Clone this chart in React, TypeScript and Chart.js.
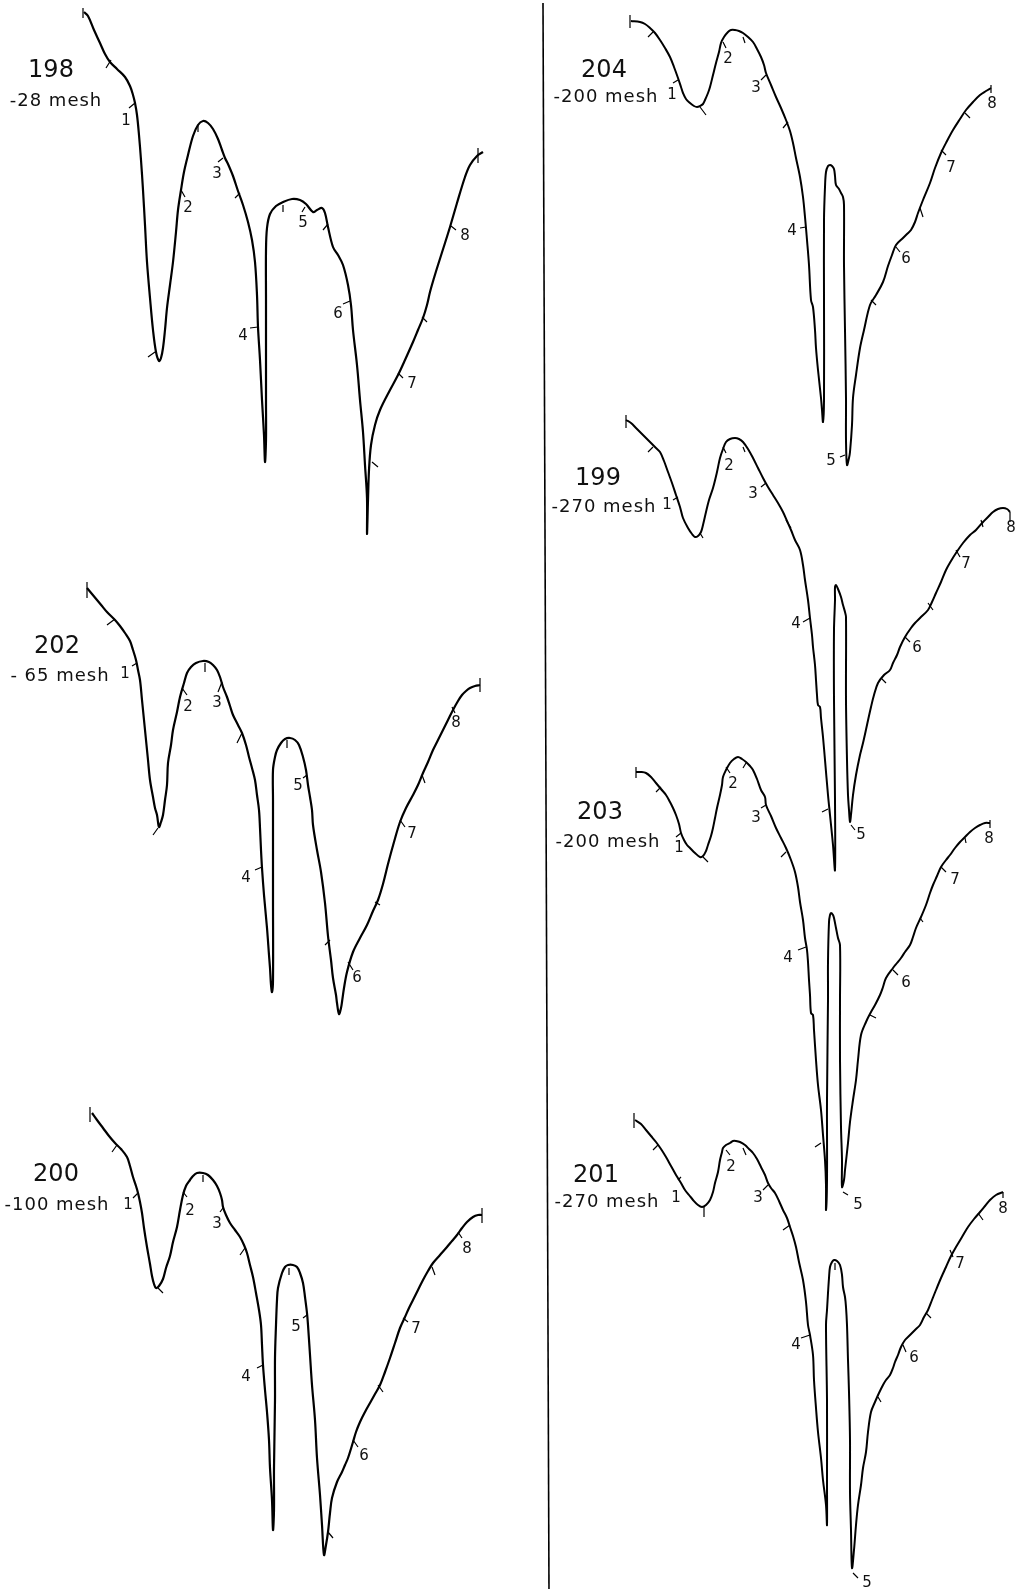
import React, { useEffect, useRef } from "react";
import { Chart, registerables } from "chart.js";

Chart.register(...registerables);

// Page size of the reference sheet (values are read in the sheet's own units)
const SHEET_W = 1026;
const SHEET_H = 1589;

// Sample identifiers and mesh sizes
const sampleIds = ["198", "202", "200", "204", "199", "203", "201"];
const meshLabels = ["-28 mesh", "- 65 mesh", "-100 mesh", "-200 mesh", "-270 mesh", "-200 mesh", "-270 mesh"];
const bandNumbers = ["1", "2", "3", "4", "5", "6", "7", "8"];

// Traced curves [x, y] in sheet units
const curve198: number[][] = [
  [84,12],[88,16],[94,30],[100,43],[105,54],[110,62],[117,69],[125,77],[130,86],[133,95],[135,103],[137,115],[139,135],[141,160],[143,190],[145,225],[147,262],[150,298],[153,330],[156,352],[159,361],[161,358],[163,348],[165,330],[167,308],[170,285],[173,262],[176,232],[178,210],[181,190],[184,172],[188,155],[193,136],[198,125],[203,121],[208,123],[213,129],[218,139],[222,150],[225,158],[228,164],[233,176],[238,191],[243,205],[248,222],[252,240],[255,262],[257,295],[258,327],[260,360],[262,400],[264,435],[265,462],[266,440],[266,400],[266,300],[266,250],[267,228],[270,214],[276,206],[283,202],[292,199],[300,200],[306,204],[313,212],[317,210],[322,208],[325,213],[328,227],[333,247],[338,255],[343,265],[348,285],[351,305],[353,330],[357,365],[360,400],[363,432],[365,465],[367,498],[367,534],[368,500],[369,470],[371,445],[375,425],[380,410],[390,390],[398,375],[405,360],[413,342],[418,330],[423,318],[427,305],[430,292],[434,278],[438,265],[445,243],[450,227],[457,203],[465,177],[470,165],[477,156],[483,152]
];
const curve202: number[][] = [
  [87,588],[92,594],[97,600],[102,606],[107,612],[115,620],[120,626],[125,633],[130,641],[133,650],[136,660],[138,670],[140,680],[142,700],[145,730],[148,760],[150,780],[153,797],[155,808],[157,815],[159,827],[161,822],[163,815],[165,800],[167,785],[168,763],[171,745],[173,730],[177,712],[180,697],[184,683],[187,673],[191,667],[196,663],[203,661],[209,662],[213,665],[217,670],[220,677],[223,687],[227,697],[230,706],[233,715],[238,725],[242,733],[246,745],[249,757],[252,768],[255,780],[257,795],[259,810],[260,828],[261,850],[262,868],[264,895],[267,928],[269,955],[270,968],[271,985],[272,992],[273,980],[273,900],[273,800],[273,770],[275,757],[277,750],[281,743],[285,739],[290,738],[295,740],[299,745],[303,757],[306,770],[308,785],[310,797],[312,810],[313,825],[317,850],[321,872],[325,903],[328,936],[331,960],[333,978],[336,995],[337,1003],[339,1014],[341,1008],[342,1002],[344,988],[347,972],[353,952],[360,938],[367,925],[373,911],[378,900],[383,884],[388,864],[394,842],[400,822],[406,808],[413,795],[418,785],[423,773],[428,762],[433,750],[438,740],[443,730],[448,720],[453,710],[458,701],[462,695],[466,691],[470,688],[475,686],[480,685]
];
const curve200: number[][] = [
  [92,1113],[97,1120],[103,1128],[109,1136],[115,1143],[121,1149],[127,1157],[130,1166],[133,1177],[136,1186],[138,1193],[140,1202],[142,1213],[144,1228],[147,1247],[150,1264],[152,1276],[154,1284],[156,1288],[159,1286],[163,1279],[166,1268],[170,1256],[173,1242],[177,1227],[180,1210],[183,1195],[186,1186],[190,1180],[193,1176],[197,1173],[203,1173],[208,1175],[213,1180],[217,1186],[220,1193],[222,1200],[223,1207],[226,1215],[230,1223],[235,1230],[240,1237],[244,1245],[247,1253],[250,1265],[253,1277],[256,1293],[259,1310],[261,1325],[262,1345],[263,1365],[265,1390],[267,1412],[269,1440],[270,1468],[272,1500],[273,1530],[274,1510],[274,1468],[275,1400],[275,1358],[276,1325],[277,1300],[278,1288],[282,1273],[285,1267],[288,1265],[293,1265],[297,1267],[300,1273],[303,1283],[305,1297],[307,1313],[308,1325],[310,1355],[312,1385],[315,1420],[317,1458],[320,1495],[322,1525],[324,1555],[326,1545],[328,1532],[330,1513],[332,1498],[337,1482],[342,1472],[345,1465],[348,1458],[353,1442],[356,1432],[360,1422],[365,1412],[370,1403],[375,1394],[380,1385],[385,1372],[390,1358],[395,1343],[400,1328],[405,1317],[409,1308],[413,1300],[418,1290],[423,1280],[428,1271],[433,1263],[440,1255],[447,1247],[452,1241],[457,1235],[462,1228],[467,1222],[473,1217],[478,1215],[482,1215]
];
const curve204: number[][] = [
  [631,21],[640,22],[645,24],[650,28],[655,33],[660,40],[665,48],[670,57],[674,67],[678,78],[681,87],[683,93],[686,99],[690,103],[694,106],[697,107],[700,106],[703,104],[705,100],[708,93],[710,87],[713,75],[716,63],[719,52],[721,43],[724,37],[728,32],[731,30],[735,30],[739,31],[743,33],[748,37],[753,42],[757,49],[761,57],[764,65],[766,73],[771,85],[776,97],[781,108],[786,120],[790,131],[793,143],[796,158],[800,177],[803,197],[805,217],[807,240],[809,265],[811,300],[813,307],[815,330],[816,348],[818,370],[821,398],[822,410],[823,422],[824,400],[824,300],[824,220],[825,187],[826,172],[828,166],[830,165],[832,166],[834,169],[835,176],[836,185],[839,189],[841,193],[843,197],[844,205],[844,265],[845,330],[846,398],[846,440],[847,465],[849,458],[850,452],[852,425],[853,398],[856,375],[860,348],[864,330],[870,305],[876,295],[883,282],[888,266],[892,255],[896,245],[903,238],[907,234],[911,230],[915,222],[918,213],[923,200],[930,183],[935,168],[941,153],[947,141],[953,130],[960,119],[966,110],[973,102],[980,95],[986,91],[991,88]
];
const curve199: number[][] = [
  [626,420],[631,423],[636,428],[643,435],[650,442],[655,447],[660,452],[664,461],[668,472],[672,483],[676,495],[680,507],[683,518],[688,528],[692,534],[695,537],[698,536],[701,532],[703,525],[706,512],[709,500],[713,488],[717,472],[720,458],[723,449],[726,442],[730,439],[735,438],[739,439],[743,442],[748,449],[753,458],[758,468],[763,478],[768,487],[773,495],[778,503],[783,512],[787,521],[791,530],[795,540],[800,550],[803,565],[805,580],[808,600],[810,618],[812,635],[813,647],[815,665],[816,680],[817,695],[818,705],[820,707],[821,718],[823,737],[825,760],[828,795],[830,815],[833,845],[835,870],[835,800],[834,700],[834,630],[835,600],[835,587],[836,585],[838,589],[841,597],[843,605],[845,612],[846,617],[846,700],[847,760],[848,795],[849,810],[850,822],[851,815],[853,795],[856,775],[860,755],[863,743],[867,725],[871,707],[874,695],[878,683],[884,675],[890,670],[893,663],[897,655],[900,647],[905,637],[911,628],[915,623],[920,618],[928,610],[932,602],[936,593],[941,582],[946,570],[951,561],[956,553],[963,543],[970,535],[976,530],[983,522],[988,517],[993,512],[998,509],[1003,508],[1007,509],[1010,512]
];
const curve203: number[][] = [
  [636,772],[641,772],[646,773],[651,777],[656,783],[661,789],[666,795],[670,802],[673,808],[676,815],[679,824],[681,833],[684,840],[687,845],[690,848],[695,853],[700,857],[703,856],[706,851],[708,845],[711,836],[713,828],[715,818],[717,808],[720,795],[722,785],[723,777],[726,770],[730,763],[734,759],[738,757],[742,759],[746,762],[750,766],[753,770],[757,779],[761,790],[765,797],[766,805],[771,816],[776,828],[781,838],[786,848],[791,860],[795,872],[798,887],[800,902],[803,920],[805,938],[807,950],[808,962],[809,980],[810,995],[811,1013],[813,1015],[814,1030],[816,1060],[818,1085],[821,1110],[823,1135],[825,1160],[826,1185],[826,1210],[827,1180],[827,1100],[828,1000],[828,962],[829,922],[830,915],[831,913],[833,915],[834,918],[836,928],[838,938],[840,945],[840,1000],[840,1060],[841,1127],[842,1160],[842,1187],[844,1180],[845,1170],[848,1143],[850,1122],[853,1100],[856,1080],[858,1060],[861,1035],[866,1022],[871,1012],[875,1005],[880,995],[883,987],[886,978],[893,968],[897,963],[901,958],[905,952],[910,945],[913,937],[916,928],[921,917],[926,905],[930,893],[933,885],[937,876],[941,867],[946,860],[950,855],[955,848],[960,842],[965,837],[970,832],[975,828],[980,825],[985,823],[990,823]
];
const curve201: number[][] = [
  [635,1120],[641,1124],[646,1130],[651,1136],[656,1142],[661,1149],[666,1157],[671,1166],[676,1175],[681,1183],[685,1190],[689,1195],[693,1200],[698,1205],[702,1207],[706,1205],[710,1200],[713,1192],[715,1183],[718,1172],[720,1160],[722,1152],[723,1148],[726,1145],[730,1143],[733,1141],[736,1141],[740,1142],[745,1145],[749,1149],[753,1153],[757,1159],[761,1167],[765,1175],[768,1183],[771,1188],[775,1193],[779,1201],[783,1210],[787,1218],[790,1227],[793,1236],[796,1247],[799,1262],[803,1280],[806,1302],[808,1325],[810,1335],[813,1355],[814,1380],[816,1408],[818,1432],[821,1458],[823,1480],[826,1505],[827,1525],[827,1480],[827,1400],[826,1325],[827,1310],[828,1293],[829,1278],[830,1267],[832,1262],[834,1260],[837,1261],[840,1265],[842,1275],[843,1287],[845,1297],[846,1307],[847,1325],[848,1360],[849,1392],[850,1440],[850,1492],[851,1530],[852,1568],[854,1550],[856,1525],[858,1505],[861,1485],[863,1468],[866,1452],[868,1432],[871,1412],[875,1402],[879,1393],[883,1385],[886,1380],[890,1375],[893,1368],[895,1362],[898,1355],[901,1347],[905,1340],[910,1335],[915,1330],[920,1325],[924,1317],[928,1310],[932,1300],[936,1290],[941,1278],[946,1267],[951,1256],[956,1247],[962,1237],[968,1227],[974,1219],[980,1212],[985,1206],[990,1200],[996,1195],[1003,1192]
];

// Short marker strokes on each curve [x1, y1, x2, y2]
const marks198: number[][] = [
  [83,8,83,18],[106,68,111,60],[129,108,135,103],[148,357,155,352],[181,190,185,197],[198,125,198,132],[218,162,223,158],[235,198,240,193],[250,328,258,327],[283,205,283,212],[302,212,305,207],[323,230,328,224],[343,304,350,301],[372,462,378,467],[398,373,403,378],[422,317,427,322],[451,226,456,230],[478,148,478,163]
];
const marks202: number[][] = [
  [87,582,87,598],[107,625,115,619],[132,666,137,663],[153,835,158,828],[182,688,187,695],[205,663,205,672],[218,692,222,682],[237,743,242,733],[255,870,262,867],[287,740,287,748],[303,778,307,775],[325,945,330,940],[348,962,353,970],[375,902,380,905],[400,820,405,827],[422,775,425,783],[452,707,455,713],[480,678,480,692]
];
const marks200: number[][] = [
  [90,1107,90,1122],[112,1152,117,1145],[133,1198,138,1193],[158,1288,163,1293],[183,1192,187,1197],[203,1175,203,1182],[220,1212,223,1208],[240,1255,245,1248],[257,1368,263,1365],[289,1268,289,1275],[303,1318,307,1315],[328,1532,333,1538],[353,1440,358,1447],[378,1385,383,1392],[403,1318,408,1322],[432,1267,435,1275],[458,1232,462,1238],[482,1208,482,1223]
];
const marks204: number[][] = [
  [630,15,630,28],[648,37,653,32],[673,83,678,80],[700,107,706,115],[723,42,726,48],[743,37,745,43],[761,80,766,75],[783,128,788,122],[800,228,806,227],[840,457,845,455],[871,300,876,305],[896,247,900,252],[920,208,923,217],[941,150,946,155],[965,113,970,118],[991,85,991,93]
];
const marks199: number[][] = [
  [626,415,626,428],[648,452,653,447],[673,500,678,497],[700,533,703,538],[723,447,726,453],[743,447,745,452],[761,487,766,483],[786,520,791,528],[803,622,810,618],[822,812,828,809],[851,825,855,830],[881,678,886,683],[905,637,910,642],[928,603,933,610],[956,550,960,557],[981,520,983,527],[1010,512,1010,522]
];
const marks203: number[][] = [
  [636,767,636,778],[656,792,661,787],[676,837,681,833],[703,857,708,862],[726,767,730,773],[743,768,746,763],[761,808,766,805],[781,857,786,852],[798,950,806,947],[815,1147,821,1143],[843,1192,848,1195],[870,1015,876,1018],[893,970,898,975],[920,918,923,922],[941,867,946,872],[965,838,966,843],[990,820,990,828]
];
const marks201: number[][] = [
  [634,1113,634,1128],[653,1150,658,1145],[678,1180,681,1177],[704,1207,704,1217],[726,1150,730,1155],[743,1148,746,1155],[763,1190,768,1185],[783,1230,790,1225],[801,1338,810,1335],[835,1263,835,1270],[853,1573,858,1578],[878,1397,881,1402],[903,1345,906,1352],[926,1313,931,1318],[950,1250,953,1257],[978,1213,983,1220],[1003,1192,1003,1198]
];

// Divider between the two columns
const dividerLine: number[][] = [[543,3],[549,1589]];

// ---------- layout (label anchor positions, sheet units, baseline) ----------
const idAnchor = [[51,77],[57,653],[56,1181],[604,77],[598,485],[600,819],[596,1182]];
const meshAnchor = [[56,106],[60,681],[57,1210],[606,102],[604,512],[608,847],[607,1207]];
const bandAnchor: number[][][] = [
  [[126,125],[188,212],[217,178],[243,340],[303,227],[338,318],[412,388],[465,240]],
  [[125,678],[188,711],[217,707],[246,882],[298,790],[357,982],[412,838],[456,727]],
  [[128,1209],[190,1215],[217,1228],[246,1381],[296,1331],[364,1460],[416,1333],[467,1253]],
  [[672,99],[728,63],[756,92],[792,235],[831,465],[906,263],[951,172],[992,108]],
  [[667,509],[729,470],[753,498],[796,628],[861,839],[917,652],[966,568],[1011,532]],
  [[679,852],[733,788],[756,822],[788,962],[858,1209],[906,987],[955,884],[989,843]],
  [[676,1202],[731,1171],[758,1202],[796,1349],[867,1587],[914,1362],[960,1268],[1003,1213]],
];

const curves = [curve198, curve202, curve200, curve204, curve199, curve203, curve201];
const marks = [marks198, marks202, marks200, marks204, marks199, marks203, marks201];

const toPts = (arr: number[][]) => arr.map(([x, y]) => ({ x, y }));
const segPts = (arr: number[][]) => {
  const out: { x: number; y: number }[] = [];
  arr.forEach(([x1, y1, x2, y2]) => {
    out.push({ x: x1, y: y1 }, { x: x2, y: y2 }, { x: NaN, y: NaN });
  });
  return out;
};

const textPlugin = {
  id: "sheetText",
  afterDatasetsDraw(chart: any) {
    const { ctx, scales } = chart;
    const xs = scales.x;
    const ys = scales.y;
    const px = (v: number) => xs.getPixelForValue(v);
    const py = (v: number) => ys.getPixelForValue(v);
    ctx.save();
    ctx.fillStyle = "#111";
    ctx.textAlign = "center";
    ctx.textBaseline = "alphabetic";
    sampleIds.forEach((id, i) => {
      ctx.font = "24px 'DejaVu Sans'";
      (ctx as any).letterSpacing = "0px";
      ctx.fillText(id, px(idAnchor[i][0]), py(idAnchor[i][1]));
      ctx.font = "18px 'DejaVu Sans'";
      (ctx as any).letterSpacing = "1px";
      ctx.fillText(meshLabels[i], px(meshAnchor[i][0]), py(meshAnchor[i][1]));
      ctx.font = "15px 'DejaVu Sans'";
      (ctx as any).letterSpacing = "0px";
      bandAnchor[i].forEach((p, j) => {
        ctx.fillText(bandNumbers[j], px(p[0]), py(p[1]));
      });
    });
    ctx.restore();
  },
};

export default function App() {
  const ref = useRef<HTMLCanvasElement | null>(null);
  useEffect(() => {
    if (!ref.current) return;
    const datasets: any[] = [];
    curves.forEach((c, i) => {
      datasets.push({
        label: sampleIds[i],
        data: toPts(c),
        showLine: true,
        borderColor: "#000",
        borderWidth: i < 3 ? 2.2 : 2,
        pointRadius: 0,
        tension: 0.35,
        fill: false,
      });
      datasets.push({
        label: sampleIds[i] + " marks",
        data: segPts(marks[i]),
        showLine: true,
        spanGaps: false,
        borderColor: "#000",
        borderWidth: 1.2,
        pointRadius: 0,
        tension: 0,
        fill: false,
      });
    });
    datasets.push({
      label: "divider",
      data: toPts(dividerLine),
      showLine: true,
      borderColor: "#000",
      borderWidth: 1.6,
      pointRadius: 0,
      tension: 0,
      fill: false,
    });
    const chart = new Chart(ref.current, {
      type: "scatter",
      data: { datasets },
      options: {
        animation: false,
        responsive: false,
        devicePixelRatio: 1,
        layout: { padding: 0 },
        plugins: { legend: { display: false }, tooltip: { enabled: false } },
        scales: {
          x: { type: "linear", min: 0, max: SHEET_W, display: false },
          y: { type: "linear", min: 0, max: SHEET_H, reverse: true, display: false },
        },
      },
      plugins: [textPlugin],
    });
    return () => chart.destroy();
  }, []);
  return (
    <div style={{ position: "absolute", left: 0, top: 0, width: SHEET_W, height: SHEET_H, background: "#fff" }}>
      <canvas ref={ref} width={SHEET_W} height={SHEET_H} style={{ display: "block" }} />
    </div>
  );
}
